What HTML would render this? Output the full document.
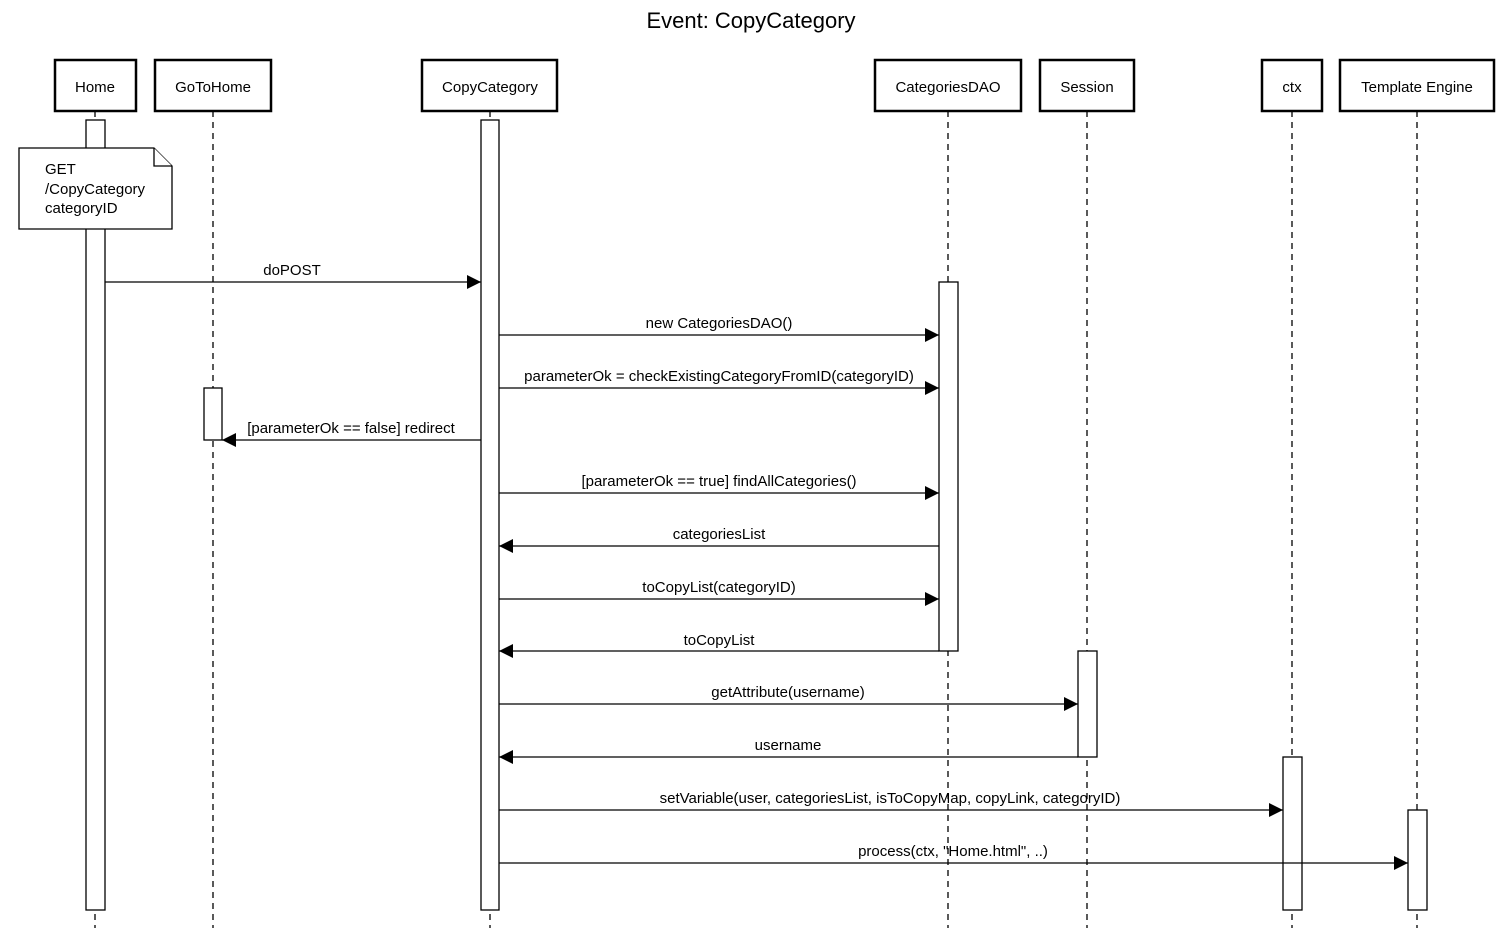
<!DOCTYPE html>
<html><head><meta charset="utf-8"><style>body{margin:0;background:#fff}svg{display:block}text{font-family:"Liberation Sans",Arial,sans-serif;font-size:15px;fill:#000}</style></head>
<body>
<svg width="1503" height="928" viewBox="0 0 1503 928" xmlns="http://www.w3.org/2000/svg">
<defs><marker id="a" markerWidth="14" markerHeight="14" refX="14" refY="7" orient="auto" markerUnits="userSpaceOnUse"><path d="M0,0 L14,7 L0,14 z" fill="#000"/></marker></defs>
<text x="751" y="28" text-anchor="middle" style="font-size:22px">Event: CopyCategory</text>
<g stroke="#000" stroke-width="1.3" stroke-dasharray="6,5">
<line x1="95" y1="111" x2="95" y2="928"/><line x1="213" y1="111" x2="213" y2="928"/><line x1="490" y1="111" x2="490" y2="928"/><line x1="948" y1="111" x2="948" y2="928"/><line x1="1087" y1="111" x2="1087" y2="928"/><line x1="1292" y1="111" x2="1292" y2="928"/><line x1="1417" y1="111" x2="1417" y2="928"/>
</g>
<g fill="#fff" stroke="#000" stroke-width="2.5">
<rect x="55" y="60" width="81" height="51"/><rect x="155" y="60" width="116" height="51"/><rect x="422" y="60" width="135" height="51"/><rect x="875" y="60" width="146" height="51"/><rect x="1040" y="60" width="94" height="51"/><rect x="1262" y="60" width="60" height="51"/><rect x="1340" y="60" width="154" height="51"/>
</g>
<g text-anchor="middle"><text x="95" y="92">Home</text><text x="213" y="92">GoToHome</text><text x="490" y="92">CopyCategory</text><text x="948" y="92">CategoriesDAO</text><text x="1087" y="92">Session</text><text x="1292" y="92">ctx</text><text x="1417" y="92">Template Engine</text></g>
<g fill="#fff" stroke="#000" stroke-width="1.3">
<rect x="86" y="120" width="19" height="790"/><rect x="481" y="120" width="18" height="790"/><rect x="939" y="282" width="19" height="369"/><rect x="204" y="388" width="18" height="52"/><rect x="1078" y="651" width="19" height="106"/><rect x="1283" y="757" width="19" height="153"/><rect x="1408" y="810" width="19" height="100"/>
<path d="M19,148 H154 L172,166 V229 H19 Z"/><path d="M154,148 V166 H172"/>
</g>
<text x="45" y="174">GET</text><text x="45" y="194">/CopyCategory</text><text x="45" y="213">categoryID</text>
<g stroke="#000" stroke-width="1.3" marker-end="url(#a)">
<line x1="105" y1="282" x2="481" y2="282"/><line x1="499" y1="335" x2="939" y2="335"/><line x1="499" y1="388" x2="939" y2="388"/><line x1="481" y1="440" x2="222" y2="440"/><line x1="499" y1="493" x2="939" y2="493"/><line x1="939" y1="546" x2="499" y2="546"/><line x1="499" y1="599" x2="939" y2="599"/><line x1="939" y1="651" x2="499" y2="651"/><line x1="499" y1="704" x2="1078" y2="704"/><line x1="1078" y1="757" x2="499" y2="757"/><line x1="499" y1="810" x2="1283" y2="810"/><line x1="499" y1="863" x2="1408" y2="863"/>
</g>
<g text-anchor="middle">
<text x="292" y="275">doPOST</text><text x="719" y="328">new CategoriesDAO()</text><text x="719" y="381">parameterOk = checkExistingCategoryFromID(categoryID)</text><text x="351" y="433">[parameterOk == false] redirect</text><text x="719" y="486">[parameterOk == true] findAllCategories()</text><text x="719" y="539">categoriesList</text><text x="719" y="592">toCopyList(categoryID)</text><text x="719" y="645">toCopyList</text><text x="788" y="697">getAttribute(username)</text><text x="788" y="750">username</text><text x="890" y="803">setVariable(user, categoriesList, isToCopyMap, copyLink, categoryID)</text><text x="953" y="856">process(ctx, "Home.html", ..)</text>
</g>
</svg>
</body></html>
